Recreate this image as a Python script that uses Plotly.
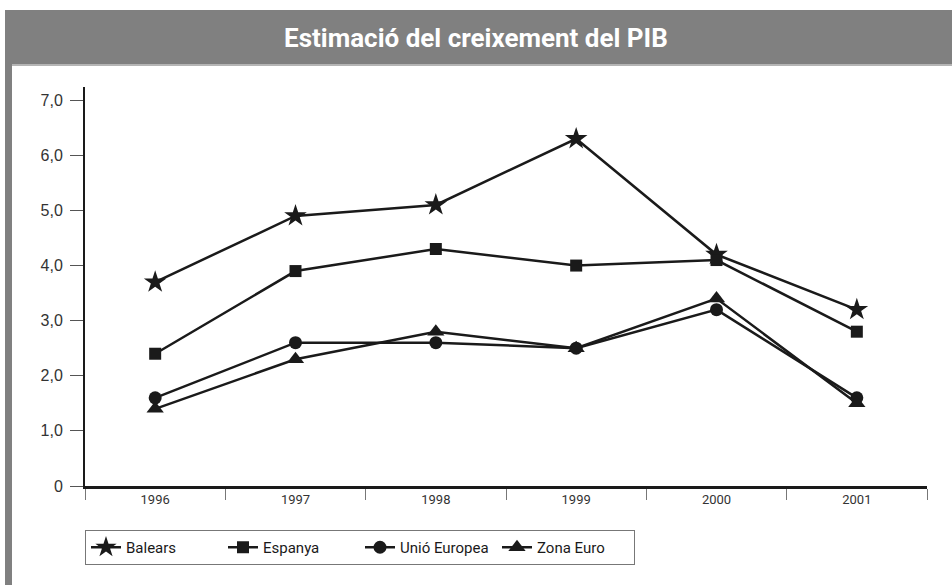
import plotly.graph_objects as go

years = ["1996", "1997", "1998", "1999", "2000", "2001"]
balears = [3.7, 4.9, 5.1, 6.3, 4.2, 3.2]
espanya = [2.4, 3.9, 4.3, 4.0, 4.1, 2.8]
unio_europea = [1.6, 2.6, 2.6, 2.5, 3.2, 1.6]
zona_euro = [1.4, 2.3, 2.8, 2.5, 3.4, 1.5]
y_ticks = [0, 1, 2, 3, 4, 5, 6, 7]
y_tick_labels = ["0", "1,0", "2,0", "3,0", "4,0", "5,0", "6,0", "7,0"]

W, H = 952, 585
L, R, T, B = 85, 25, 87, 99
pw, ph = W - L - R, H - T - B

def px(x):
    return (x - L) / pw

def py(y):
    return (H - B - y) / ph

ink = "#1a1a1a"
narrow = "Roboto, Liberation Sans, sans-serif"

series = [
    ("Balears", balears, "star", 17),
    ("Espanya", espanya, "square", 12),
    ("Unió Europea", unio_europea, "circle", 13),
    ("Zona Euro", zona_euro, "triangle-up", 15),
]

fig = go.Figure()
for name, vals, sym, size in series:
    fig.add_trace(go.Scatter(
        x=years, y=vals, name=name, mode="lines+markers",
        line=dict(color=ink, width=2.5),
        marker=dict(symbol=sym, size=size, color=ink, line=dict(width=0)),
    ))

shapes = [
    dict(type="rect", xref="paper", yref="paper", x0=px(5), x1=px(952), y0=py(65), y1=py(10),
         fillcolor="#808080", line=dict(width=0), layer="below"),
    dict(type="line", xref="paper", yref="paper", x0=px(12), x1=px(952), y0=py(65), y1=py(65),
         line=dict(color="#b5b5b5", width=2)),
    dict(type="rect", xref="paper", yref="paper", x0=px(5), x1=px(12), y0=py(585), y1=py(65),
         fillcolor="#808080", line=dict(width=0), layer="below"),
]

fig.update_layout(
    width=W, height=H,
    margin=dict(l=L, r=R, t=T, b=B),
    paper_bgcolor="white", plot_bgcolor="white",
    shapes=shapes,
    annotations=[dict(
        text="<b>Estimació del creixement del PIB</b>", xref="paper", yref="paper",
        x=px(476), y=py(38), xanchor="center", yanchor="middle", showarrow=False,
        font=dict(family=narrow, size=26, color="white"),
    )],
    showlegend=True,
    legend=dict(
        orientation="h", x=0, xanchor="left", y=py(530), yanchor="top",
        bordercolor="#777", borderwidth=1, bgcolor="white",
        font=dict(family=narrow, size=15, color=ink),
        itemsizing="trace", itemwidth=30, tracegroupgap=0,
        entrywidth=92, entrywidthmode="pixels",
    ),
    xaxis=dict(
        type="category", range=[-0.5, 5.5], tickson="boundaries",
        ticks="outside", ticklen=11, tickcolor="#777", tickwidth=1,
        showline=True, linecolor=ink, linewidth=2.5, showgrid=False, zeroline=False,
        tickfont=dict(family=narrow, size=13, color="#333"),
        fixedrange=True,
    ),
    yaxis=dict(
        range=[0, 7.24], tickvals=y_ticks, ticktext=y_tick_labels,
        ticks="outside", ticklen=13, tickcolor="#555", tickwidth=1,
        showline=True, linecolor=ink, linewidth=2, showgrid=False, zeroline=False,
        tickfont=dict(family="Liberation Sans, Arial, sans-serif", size=16, color="#333"),
        ticklabelstandoff=4,
    ),
)

fig.write_html("out.html", config={"displayModeBar": False},
               post_script="document.body.style.margin='0';")
